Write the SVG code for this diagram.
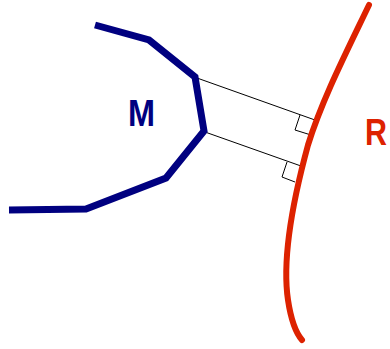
<svg xmlns="http://www.w3.org/2000/svg" width="390" height="349" viewBox="0 0 390 349">
<style>
.lbl{font-family:"Liberation Sans",Arial,sans-serif;font-weight:bold;font-size:36px}
.thin{fill:none;stroke:#000;stroke-width:1}
</style>
<rect width="390" height="349" fill="#fff"/>
<g id="connectors">
<line class="thin" x1="197" y1="78" x2="315" y2="120"/>
<line class="thin" x1="205" y1="132" x2="301" y2="166"/>
<polyline class="thin" points="300,115 295,130 311,135"/>
<polyline class="thin" points="287,162 282,177 295,182"/>
</g>
<g id="M">
<polyline points="95,25 149,40 195,77 204,131 166,178 86,209 9,210" fill="none" stroke="#000080" stroke-width="7" stroke-linejoin="miter"/>
<text class="lbl" x="128" y="126" fill="#000080" textLength="27" lengthAdjust="spacingAndGlyphs">M</text>
</g>
<g id="R">
<path d="M369,5 C345,55 322,100 308,145 C293,200 282,260 288,300 C291,320 296,333 302,340" fill="none" stroke="#dd2200" stroke-width="6" stroke-linecap="round"/>
<text class="lbl" x="365" y="145" fill="#dd2200" textLength="22" lengthAdjust="spacingAndGlyphs">R</text>
</g>
</svg>
